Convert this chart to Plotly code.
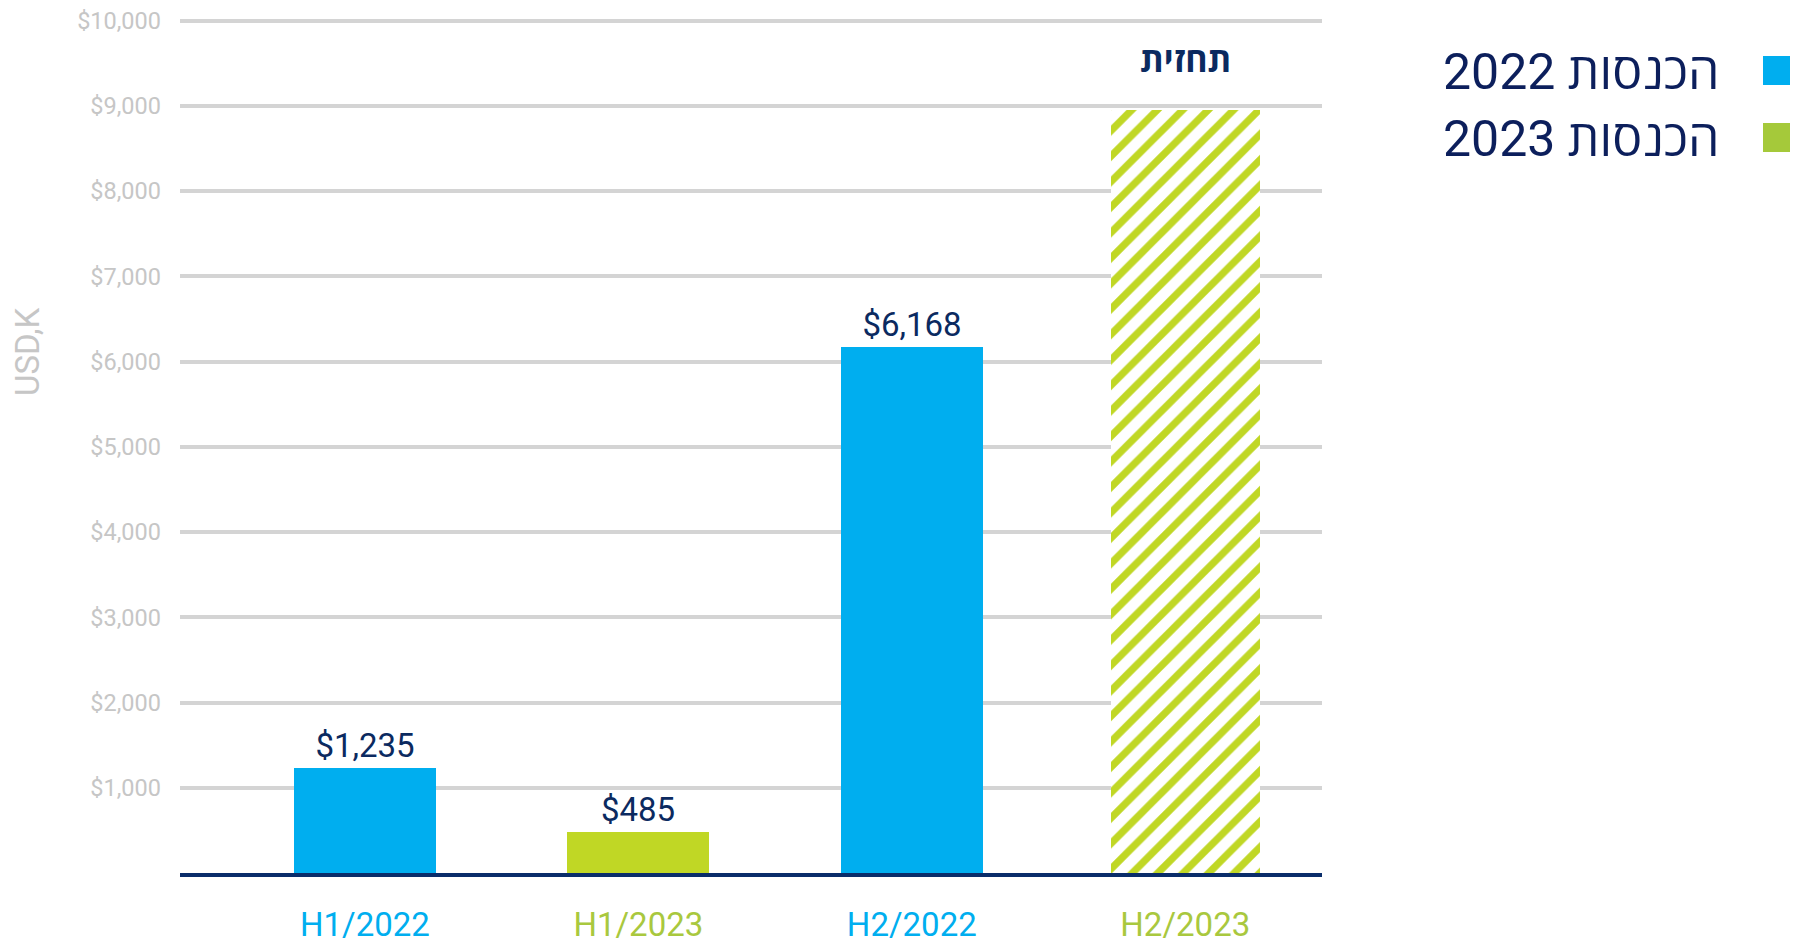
import plotly.graph_objects as go

# ---- data ----
categories = ["H1/2022", "H1/2023", "H2/2022", "H2/2023"]
cat_2022 = ["H1/2022", "H2/2022"]
val_2022 = [1235, 6168]
lbl_2022 = ["$1,235", "$6,168"]
cat_2023 = ["H1/2023", "H2/2023"]
val_2023 = [485, 8950]
lbl_2023 = ["$485", ""]
forecast_cat = "H2/2023"
forecast_val = 8950
forecast_text = "תחזית"
legend_labels = ["2022 הכנסות", "2023 הכנסות"]
y_tickvals = [1000, 2000, 3000, 4000, 5000, 6000, 7000, 8000, 9000, 10000]
y_ticktext = ["$1,000", "$2,000", "$3,000", "$4,000", "$5,000",
              "$6,000", "$7,000", "$8,000", "$9,000", "$10,000"]
y_title = "USD,K"

BLUE = "#00aeef"
GREEN = "#c0d725"
GREEN_TXT = "#a9c83e"
GREEN_LEG = "#a5c93a"
NAVY = "#0b2a60"
GRAY = "#c6c6c6"
GRID = "#d4d4d4"
FONT = "Roboto, 'Open Sans', 'Liberation Sans', 'DejaVu Sans', sans-serif"

cat_colors = {"H1/2022": BLUE, "H2/2022": BLUE, "H1/2023": GREEN_TXT, "H2/2023": GREEN_TXT}
x_ticktext = [f"<span style='color:{cat_colors[c]}'>{c}</span>" for c in categories]

# page body has an 8px margin; the figure is laid out in page pixels minus that offset
OFF = 8
W, H = 1798 - OFF, 943 - OFF
L, R, T, B = 180 - OFF, 476, 18 - OFF, 70
PW, PH = W - L - R, H - T - B


def px_x(p):
    return (p - OFF - L) / PW


def px_y(p):
    return (H - B - (p - OFF)) / PH


fig = go.Figure()
fig.add_trace(go.Bar(
    x=cat_2022, y=val_2022, text=lbl_2022, textposition="outside",
    textfont=dict(size=33, color=NAVY, family=FONT),
    marker=dict(color=BLUE, line=dict(width=0)), width=0.52,
    cliponaxis=False, name="2022", showlegend=False,
))
fig.add_trace(go.Bar(
    x=cat_2023, y=val_2023, text=lbl_2023, textposition="outside",
    textfont=dict(size=33, color=NAVY, family=FONT),
    marker=dict(color=GREEN, line=dict(width=0),
                pattern=dict(shape=["", "/"], fgcolor=GREEN,
                             bgcolor=[GREEN, "white"], size=18, solidity=0.4,
                             fillmode="replace")),
    width=[0.52, 0.545], cliponaxis=False, name="2023", showlegend=False,
))

fig.add_annotation(x=forecast_cat, y=forecast_val, xref="x", yref="y",
                   text=f"<b>{forecast_text}</b>", showarrow=False,
                   yanchor="bottom", yshift=28,
                   font=dict(size=34, color=NAVY, family=FONT))

# y-axis title
fig.add_annotation(x=px_x(28), y=px_y(352), xref="paper", yref="paper",
                   text=y_title, textangle=-90, showarrow=False,
                   xanchor="center", yanchor="middle",
                   font=dict(size=33, color=GRAY, family=FONT))

# custom RTL legend (swatch on the right of the text)
leg_colors = [BLUE, GREEN_LEG]
leg_sq_px = [(56, 85), (123, 152)]
for lab, col, (t0, t1) in zip(legend_labels, leg_colors, leg_sq_px):
    fig.add_shape(type="rect", xref="paper", yref="paper",
                  x0=px_x(1763), x1=px_x(1792), y0=px_y(t1), y1=px_y(t0),
                  fillcolor=col, line=dict(width=0))
    fig.add_annotation(x=px_x(1721), y=px_y((t0 + t1) / 2 + 1), xref="paper", yref="paper",
                       text=lab, showarrow=False, xanchor="right", yanchor="middle",
                       font=dict(size=50, color="#0c1f5c", family=FONT))

fig.update_layout(
    width=W, height=H,
    margin=dict(l=L, r=R, t=T, b=B, autoexpand=False),
    paper_bgcolor="white", plot_bgcolor="white",
    barmode="overlay", bargap=0,
    font=dict(family=FONT),
    xaxis=dict(type="category", categoryorder="array", categoryarray=categories,
               range=[-0.676, 3.5], tickmode="array", tickvals=categories,
               ticktext=x_ticktext, tickfont=dict(size=33, family=FONT),
               showline=True, linecolor="#0a2d6a", linewidth=4,
               showgrid=False, ticks="", ticklabelstandoff=19, automargin=False,
               ticklabeloverflow="allow"),
    yaxis=dict(range=[0, 10030], tickmode="array", tickvals=y_tickvals,
               ticktext=y_ticktext, tickfont=dict(size=23.5, color=GRAY, family=FONT),
               showgrid=True, gridcolor=GRID, gridwidth=4, zeroline=False,
               showline=False, ticks="", ticklabelstandoff=18, automargin=False,
               ticklabeloverflow="allow"),
)

fig.write_html("out.html")
